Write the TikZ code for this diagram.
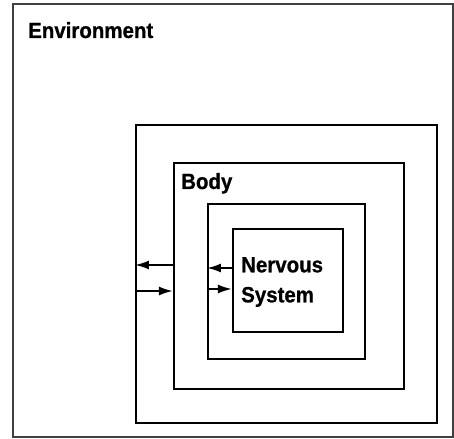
\documentclass[tikz,border=0pt]{standalone}
\usepackage{fontspec}
\setmainfont{Liberation Sans}[FakeStretch=0.93,BoldFeatures={FakeBold=0.8}]
\usetikzlibrary{arrows.meta}
\tikzset{
  box/.style={draw,line width=2.1pt,inner sep=0pt},
  lbl/.style={inner sep=0pt,align=left,font=\bfseries\fontsize{22}{30}\selectfont},
  flow/.style={-{Latex[length=14pt,width=9pt]},line width=2pt}
}
\begin{document}
\begin{tikzpicture}[x=1pt,y=1pt]
\useasboundingbox (0,0) rectangle (454,438);
\node[draw=black!75,line width=1.3pt,inner sep=0pt,minimum width=440pt,minimum height=433pt] (env) at (233,217.5) {};
\node[box,minimum width=301pt,minimum height=298pt] (outer) at (286.5,164) {};
\node[box,minimum width=230pt,minimum height=226pt] (body) at (289,162) {};
\node[box,minimum width=157pt,minimum height=155pt] (inner) at (286.5,156.5) {};
\node[box,minimum width=110pt,minimum height=103pt] (nerve) at (288,157.5) {};
\node[lbl,anchor=base west] (envname) at (28,400) {Environment};
\node[lbl,anchor=base west] (bodyname) at (181,249) {Body};
\node[lbl,anchor=north west] (nervename) at (241,181) {Nervous\\System};
\coordinate (outup) at (0,173);
\coordinate (outdown) at (0,147);
\coordinate (inup) at (0,170);
\coordinate (indown) at (0,149);
\draw[flow] (body.west |- outup) -- (outer.west |- outup);
\draw[flow] (outer.west |- outdown) -- (body.west |- outdown);
\draw[flow] (nerve.west |- inup) -- (inner.west |- inup);
\draw[flow] (inner.west |- indown) -- (nerve.west |- indown);
\end{tikzpicture}
\end{document}
